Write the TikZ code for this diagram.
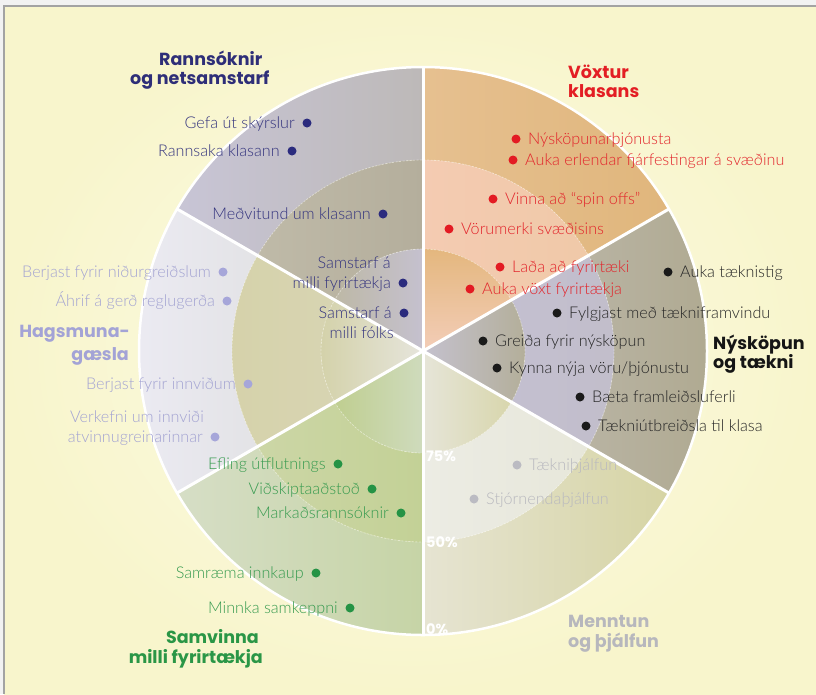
\documentclass[tikz,border=0pt]{standalone}
\usepackage{fontspec}
\setmainfont{Lato}
\newfontfamily\itemfont{Lato Light}
\newfontfamily\titlefont{Poppins}

% ---- colours -------------------------------------------------------------
\definecolor{framegrey}{HTML}{A3A3A3}
\definecolor{stripgrey}{HTML}{F2F2F2}
\definecolor{paperin}{HTML}{FCFBE6}
\definecolor{paperout}{HTML}{F8F5CC}
% Rannsóknir og netsamstarf
\definecolor{rntitle}{HTML}{2E2E78}
\definecolor{rntxt}{HTML}{34347E}
\definecolor{rndot}{HTML}{2B2B7E}
\definecolor{rnA}{HTML}{C8C5D6}\definecolor{rnB}{HTML}{BDB9B8}
\definecolor{rnC}{HTML}{BFBAA8}\definecolor{rnD}{HTML}{B4AE9C}
\definecolor{rnE}{HTML}{BDB8A6}\definecolor{rnF}{HTML}{C5C1CF}
% Vöxtur klasans
\definecolor{vxtitle}{HTML}{E31E24}
\definecolor{vxtxt}{HTML}{E2252C}
\definecolor{vxdot}{HTML}{E31B23}
\definecolor{vxA}{HTML}{E6C090}\definecolor{vxB}{HTML}{E0B67C}
\definecolor{vxC}{HTML}{F4CBB2}\definecolor{vxD}{HTML}{F0C9A8}
\definecolor{vxE}{HTML}{E4B77E}\definecolor{vxF}{HTML}{F3CDB8}
% Nýsköpun og tækni
\definecolor{nytitle}{HTML}{151515}
\definecolor{nytxt}{HTML}{262626}
\definecolor{nydot}{HTML}{1A1A1A}
\definecolor{nyA}{HTML}{B8B3A2}\definecolor{nyB}{HTML}{AFA990}
\definecolor{nyC}{HTML}{C3BFD0}\definecolor{nyD}{HTML}{C2BECA}
\definecolor{nyE}{HTML}{C4C1CE}\definecolor{nyF}{HTML}{B3AE98}
% Menntun og þjálfun
\definecolor{mttitle}{HTML}{B7B7BD}
\definecolor{mttxt}{HTML}{B9B9BF}
\definecolor{mtdot}{HTML}{BBBBC2}
\definecolor{mtA}{HTML}{E6E4D2}\definecolor{mtB}{HTML}{D6D4A4}
\definecolor{mtC}{HTML}{ECECE4}\definecolor{mtD}{HTML}{E7E7DA}
\definecolor{mtE}{HTML}{E6E5D8}\definecolor{mtF}{HTML}{D8D6AC}
% Samvinna milli fyrirtækja
\definecolor{smtitle}{HTML}{2A9646}
\definecolor{smtxt}{HTML}{389B50}
\definecolor{smdot}{HTML}{259345}
\definecolor{smA}{HTML}{D6DEC6}\definecolor{smB}{HTML}{C6D4A6}
\definecolor{smC}{HTML}{CCD6A6}\definecolor{smD}{HTML}{C3D196}
\definecolor{smE}{HTML}{BFCE90}\definecolor{smF}{HTML}{CFDBBD}
% Hagsmunagæsla
\definecolor{hgtitle}{HTML}{A3A3D6}
\definecolor{hgtxt}{HTML}{A3A3D2}
\definecolor{hgdot}{HTML}{A6A6D9}
\definecolor{hgA}{HTML}{ECEBF3}\definecolor{hgB}{HTML}{E3E3E6}
\definecolor{hgC}{HTML}{D6D2AA}\definecolor{hgD}{HTML}{D7D4B2}
\definecolor{hgE}{HTML}{D3D1A8}\definecolor{hgF}{HTML}{E6E5DC}

\tikzset{
  itemR/.style={anchor=base east, inner sep=0pt, font=\itemfont\fontsize{16.2}{19}\selectfont},
  itemL/.style={anchor=base west, inner sep=0pt, font=\itemfont\fontsize{16.2}{19}\selectfont},
  dotmark/.style={circle, inner sep=0pt, minimum size=9pt},
  titleW/.style={anchor=base west, inner sep=0pt, font=\titlefont\bfseries\fontsize{17.5}{20}\selectfont},
  titleE/.style={anchor=base east, inner sep=0pt, font=\titlefont\bfseries\fontsize{17.5}{20}\selectfont},
  pct/.style={anchor=base west, inner sep=0pt, text=white, font=\titlefont\bfseries\fontsize{14.5}{16}\selectfont},
  divider/.style={white, line width=3pt},
  ringmark/.style={white, opacity=0.4, line width=0.8pt, dash pattern=on 2pt off 1.5pt},
}

% annular piece of the wheel: start angle, end angle, inner r, outer r, shading
\newcommand\wheelpiece[5]{%
  \shade[#5] (#1:#4) arc[start angle=#1, end angle=#2, radius=#4]
    -- (#2:#3) arc[start angle=#2, end angle=#1, radius=#3] -- cycle;}
% innermost wedge: start angle, end angle, radius, shading
\newcommand\wheelcore[4]{%
  \shade[#4] (0,0) -- (#1:#3) arc[start angle=#1, end angle=#2, radius=#3] -- cycle;}

% bullet with its text on the left
\newcommand\bulletleft[5]{%
  \node[dotmark, fill=#4dot] (#1) at (#2,#3) {};
  \node[itemR, text=#4txt] (#1-label) at ([xshift=-12pt, yshift=-5.5pt]#1.center) {#5};}
% bullet with its text on the right
\newcommand\bulletright[5]{%
  \node[dotmark, fill=#4dot] (#1) at (#2,#3) {};
  \node[itemL, text=#4txt] (#1-label) at ([xshift=12pt, yshift=-5.5pt]#1.center) {#5};}

\begin{document}
\begin{tikzpicture}[x=1pt, y=-1pt]
\useasboundingbox (0,0) rectangle (816,694);

% paper and frame
\fill[stripgrey] (0,0) rectangle (816,694);
\shade[inner color=paperin, outer color=paperout] (4,6) rectangle (816,694);
\draw[framegrey, line width=1.5pt] (4,694) -- (4,6) -- (816,6);

% ---- the wheel -------------------------------------------------------------
\begin{scope}[shift={(423,351)}, y=1pt]
  % outer ring: Rannsóknir, Vöxtur, Nýsköpun, Menntun, Samvinna, Hagsmunagæsla
  \wheelpiece{90}{150}{191}{284}{left color=rnA, right color=rnB}
  \wheelpiece{30}{90}{191}{284}{left color=vxA, right color=vxB}
  \wheelpiece{-30}{30}{191}{284}{left color=nyA, right color=nyB}
  \wheelpiece{-90}{-30}{191}{284}{left color=mtA, right color=mtB}
  \wheelpiece{-150}{-90}{191}{284}{left color=smA, right color=smB}
  \wheelpiece{150}{210}{191}{284}{left color=hgA, right color=hgB}

  % middle ring
  \wheelpiece{90}{150}{102}{191}{left color=rnC, right color=rnD}
  \wheelpiece{30}{90}{102}{191}{left color=vxC, right color=vxD}
  \wheelpiece{-30}{30}{102}{191}{left color=nyC, right color=nyD}
  \wheelpiece{-90}{-30}{102}{191}{left color=mtC, right color=mtD}
  \wheelpiece{-150}{-90}{102}{191}{left color=smC, right color=smD}
  \wheelpiece{150}{210}{102}{191}{left color=hgC, right color=hgD}

  % inner disc
  \wheelcore{90}{150}{102}{left color=rnE, right color=rnF}
  \wheelcore{30}{90}{102}{top color=vxE, bottom color=vxF}
  \wheelcore{-30}{30}{102}{left color=nyE, right color=nyF}
  \wheelcore{-90}{-30}{102}{left color=mtE, right color=mtF}
  \wheelcore{-150}{-90}{102}{left color=smE, right color=smF}
  \wheelcore{150}{210}{102}{left color=hgE, right color=hgF}

  % ring boundaries
  \draw[ringmark] (0,0) circle[radius=102];
  \draw[ringmark] (0,0) circle[radius=191];

  % sector dividers and rim
  \draw[divider] (90:284) -- (-90:284);
  \draw[divider] (30:284) -- (210:284);
  \draw[divider] (150:284) -- (-30:284);
  \draw[white, line width=2.5pt] (0,0) circle[radius=284];
\end{scope}

% ---- scale ----------------------------------------------------------------
\node[pct] (p75) at (426,461) {75\%};
\node[pct] (p50) at (426,547) {50\%};
\node[pct] (p0)  at (426,634) {0\%};

% ---- titles ---------------------------------------------------------------
\node[titleW, text=rntitle] (rn-t1) at (159,65) {Rannsóknir};
\node[titleW, text=rntitle] (rn-t2) at (130,84) {og netsamstarf};
\node[titleW, text=vxtitle] (vx-t1) at (568,78) {Vöxtur};
\node[titleW, text=vxtitle] (vx-t2) at (568,97) {klasans};
\node[titleW, text=nytitle] (ny-t1) at (713,349) {Nýsköpun};
\node[titleW, text=nytitle] (ny-t2) at (713,368) {og tækni};
\node[titleW, text=mttitle] (mt-t1) at (568,627) {Menntun};
\node[titleW, text=mttitle] (mt-t2) at (568,647) {og þjálfun};
\node[titleE, text=smtitle] (sm-t1) at (259,643) {Samvinna};
\node[titleE, text=smtitle] (sm-t2) at (263,663) {milli fyrirtækja};
\node[titleE, text=hgtitle] (hg-t1) at (130,337) {Hagsmuna-};
\node[titleE, text=hgtitle] (hg-t2) at (129,360) {gæsla};

% ---- Rannsóknir og netsamstarf -------------------------------------------
\bulletleft{rn1}{307}{123}{rn}{Gefa út skýrslur}
\bulletleft{rn2}{292}{151}{rn}{Rannsaka klasann}
\bulletleft{rn3}{383}{214}{rn}{Meðvitund um klasann}
\bulletleft{rn4}{403}{283}{rn}{milli fyrirtækja}
\node[itemR, text=rntxt] (rn4-top) at ([yshift=20pt]rn4-label.base east) {Samstarf á};
\bulletleft{rn5}{404}{313}{rn}{Samstarf á}
\node[itemR, text=rntxt] (rn5-bottom) at ([xshift=2pt, yshift=-20pt]rn5-label.base east) {milli fólks};

% ---- Vöxtur klasans -------------------------------------------------------
\bulletright{vx1}{516}{139}{vx}{Nýsköpunarþjónusta}
\bulletright{vx2}{513}{160}{vx}{Auka erlendar fjárfestingar á svæðinu}
\bulletright{vx3}{493}{199}{vx}{Vinna að “spin offs”}
\bulletright{vx4}{449}{229}{vx}{Vörumerki svæðisins}
\bulletright{vx5}{500}{267}{vx}{Laða að fyrirtæki}
\bulletright{vx6}{470}{289}{vx}{Auka vöxt fyrirtækja}

% ---- Nýsköpun og tækni ----------------------------------------------------
\bulletright{ny1}{668}{272}{ny}{Auka tæknistig}
\bulletright{ny2}{557}{313}{ny}{Fylgjast með tækniframvindu}
\bulletright{ny3}{483}{341}{ny}{Greiða fyrir nýsköpun}
\bulletright{ny4}{497}{368}{ny}{Kynna nýja vöru/þjónustu}
\bulletright{ny5}{580}{397}{ny}{Bæta framleiðsluferli}
\bulletright{ny6}{586}{426}{ny}{Tækniútbreiðsla til klasa}

% ---- Menntun og þjálfun ---------------------------------------------------
\bulletright{mt1}{517}{465}{mt}{Tækniþjálfun}
\bulletright{mt2}{474}{499}{mt}{Stjórnendaþjálfun}

% ---- Samvinna milli fyrirtækja -------------------------------------------
\bulletleft{sm1}{338}{464}{sm}{Efling útflutnings}
\bulletleft{sm2}{372}{489}{sm}{Viðskiptaaðstoð}
\bulletleft{sm3}{401}{513}{sm}{Markaðsrannsóknir}
\bulletleft{sm4}{316}{573}{sm}{Samræma innkaup}
\bulletleft{sm5}{350}{608}{sm}{Minnka samkeppni}

% ---- Hagsmunagæsla --------------------------------------------------------
\bulletleft{hg1}{223}{272}{hg}{Berjast fyrir niðurgreiðslum}
\bulletleft{hg2}{227}{301}{hg}{Áhrif á gerð reglugerða}
\bulletleft{hg3}{248}{384}{hg}{Berjast fyrir innviðum}
\bulletleft{hg4}{215}{437}{hg}{atvinnugreinarinnar}
\node[itemR, text=hgtxt] (hg4-top) at ([xshift=1pt, yshift=20pt]hg4-label.base east) {Verkefni um innviði};
\end{tikzpicture}
\end{document}
